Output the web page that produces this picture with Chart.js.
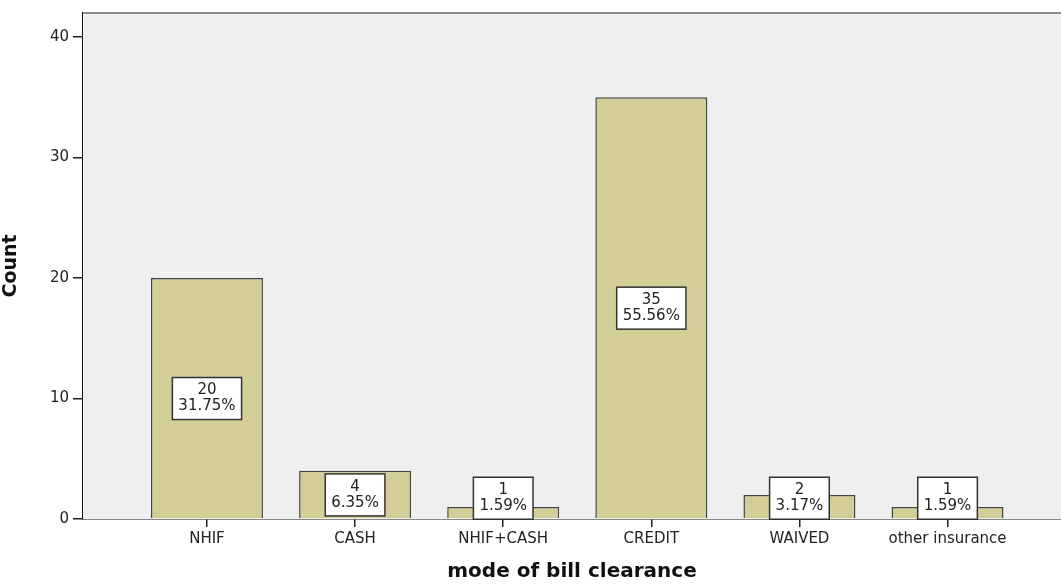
<!DOCTYPE html>
<html>
<head>
<meta charset="utf-8">
<script src="https://cdn.jsdelivr.net/npm/chart.js@4/dist/chart.umd.min.js"></script>
<style>
  html, body { margin: 0; padding: 0; background: #fff; }
  #wrap { width: 1061px; height: 588px; }
</style>
</head>
<body>
<div id="wrap"><canvas id="myChart"></canvas></div>
<script>
const categories = ["NHIF", "CASH", "NHIF+CASH", "CREDIT", "WAIVED", "other insurance"];
const counts = [20, 4, 1, 35, 2, 1];
const percents = ["31.75%", "6.35%", "1.59%", "55.56%", "3.17%", "1.59%"];
const yTicks = [0, 10, 20, 30, 40];

const FONT = "'DejaVu Sans', sans-serif";

// grey plot background + grey top frame line
const plotFrame = {
    id: 'plotFrame',
    beforeDatasetsDraw(chart) {
        const a = chart.chartArea, c = chart.ctx;
        c.save();
        c.fillStyle = '#efefef';
        c.fillRect(a.left, a.top, a.right - a.left, a.bottom - a.top);
        c.restore();
    },
    afterDraw(chart) {
        const a = chart.chartArea, c = chart.ctx;
        c.save();
        c.strokeStyle = '#8a8a8a';
        c.lineWidth = 2;
        c.beginPath();
        c.moveTo(a.left, a.top);
        c.lineTo(a.right, a.top);
        c.stroke();
        c.restore();
    }
};

// white boxes with count + percent
const boxLabels = {
    id: 'boxLabels',
    afterDatasetsDraw(chart) {
        const c = chart.ctx;
        const ys = chart.scales.y;
        const meta = chart.getDatasetMeta(0);
        c.save();
        c.font = '15px ' + FONT;
        c.textAlign = 'center';
        c.textBaseline = 'middle';
        meta.data.forEach(function(bar, i) {
            const l1 = String(counts[i]), l2 = percents[i];
            const w = Math.max(c.measureText(l1).width, c.measureText(l2).width) + 12;
            const h = 42;
            let cy = ys.getPixelForValue(counts[i] / 2);
            cy = Math.min(cy, bar.base - 20);
            const x = bar.x;
            c.fillStyle = '#fff';
            c.fillRect(x - w / 2, cy - h / 2, w, h);
            c.strokeStyle = '#333';
            c.lineWidth = 1.5;
            c.strokeRect(x - w / 2, cy - h / 2, w, h);
            c.fillStyle = '#222';
            c.fillText(l1, x, cy - 8);
            c.fillText(l2, x, cy + 8);
        });
        c.restore();
    }
};

new Chart(document.getElementById('myChart'), {
    type: 'bar',
    data: {
        datasets: [{
            data: counts.map(function(v, i) { return { x: i, y: v }; }),
            backgroundColor: '#d3ce97',
            borderColor: '#444',
            borderWidth: 1.5,
            barPercentage: 0.756,
            categoryPercentage: 1.0
        }]
    },
    options: {
        responsive: true,
        maintainAspectRatio: false,
        animation: false,
        layout: { padding: { top: 9, left: 0, right: 0, bottom: 0 } },
        plugins: {
            legend: { display: false },
            tooltip: { enabled: false }
        },
        scales: {
            x: {
                type: 'linear',
                offset: false,
                min: -0.837,
                max: 5.766,
                afterBuildTicks: function(scale) {
                    scale.ticks = categories.map(function(_, i) { return { value: i }; });
                },
                afterFit: function(scale) { scale.height = 69; },
                grid: { offset: false, drawOnChartArea: false, drawTicks: true, tickLength: 8, color: '#222', lineWidth: 1.5 },
                border: { color: '#111', width: 1.5 },
                ticks: {
                    autoSkip: false,
                    maxRotation: 0,
                    padding: 3,
                    color: '#222',
                    font: { family: FONT, size: 15 },
                    callback: function(value) { return categories[value]; }
                },
                title: {
                    display: true,
                    text: 'mode of bill clearance',
                    color: '#111',
                    font: { family: FONT, size: 20, weight: 'bold' },
                    padding: { top: 0, bottom: 4 }
                }
            },
            y: {
                min: 0,
                max: 42,
                afterBuildTicks: function(scale) {
                    scale.ticks = yTicks.map(function(v) { return { value: v }; });
                },
                afterFit: function(scale) { scale.width = 83; },
                grid: { drawOnChartArea: false, drawTicks: true, tickLength: 10, color: '#222', lineWidth: 1.5 },
                border: { color: '#111', width: 1.5 },
                ticks: {
                    padding: 4,
                    color: '#222',
                    font: { family: FONT, size: 15 }
                },
                title: {
                    display: true,
                    text: 'Count',
                    color: '#111',
                    font: { family: FONT, size: 19, weight: 'bold' },
                    padding: { top: 0, bottom: 0 }
                }
            }
        }
    },
    plugins: [plotFrame, boxLabels]
});
</script>
</body>
</html>
